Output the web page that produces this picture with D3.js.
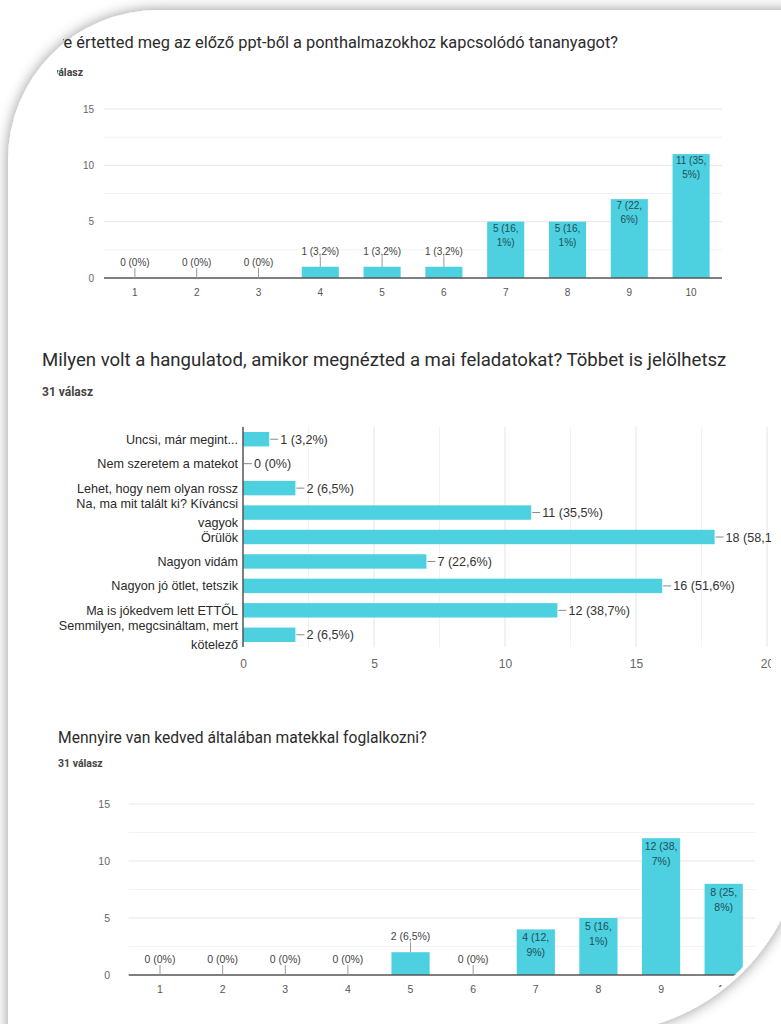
<!DOCTYPE html>
<html><head><meta charset="utf-8">
<script src="https://cdn.jsdelivr.net/npm/d3@7"></script>
<style>html,body{margin:0;padding:0;background:#fff;}svg{display:block}</style>
</head><body>
<svg id="c" width="781" height="1024"></svg>
<script>
// ---------- DATA ----------
const c1Title = "Mennyire értetted meg az előző ppt-ből a ponthalmazokhoz kapcsolódó tananyagot?";
const c1Sub = "31 válasz";
const c1Cats = ["1","2","3","4","5","6","7","8","9","10"];
const c1Vals = [0,0,0,1,1,1,5,5,7,11];
const c1Pct  = ["0","0","0","3,2","3,2","3,2","16,1","16,1","22,6","35,5"];
const c1Ticks = [0,5,10,15];

const c2Title = "Milyen volt a hangulatod, amikor megnézted a mai feladatokat? Többet is jelölhetsz";
const c2Sub = "31 válasz";
const c2Cats = ["Uncsi, már megint...","Nem szeretem a matekot","Lehet, hogy nem olyan rossz","Na, ma mit talált ki? Kíváncsi vagyok","Örülök","Nagyon vidám","Nagyon jó ötlet, tetszik","Ma is jókedvem lett ETTŐL","Semmilyen, megcsináltam, mert kötelező"];
const c2Vals = [1,0,2,11,18,7,16,12,2];
const c2Pct  = ["3,2","0","6,5","35,5","58,1","22,6","51,6","38,7","6,5"];
const c2Ticks = [0,5,10,15,20];

const c3Title = "Mennyire van kedved általában matekkal foglalkozni?";
const c3Sub = "31 válasz";
const c3Cats = ["1","2","3","4","5","6","7","8","9","10"];
const c3Vals = [0,0,0,0,2,0,4,5,12,8];
const c3Pct  = ["0","0","0","0","6,5","0","12,9","16,1","38,7","25,8"];
const c3Ticks = [0,5,10,15];

// ---------- STYLE ----------
const BAR = "#4dd0df";
const TITLE_FONT = "Roboto, 'Liberation Sans', Arial, sans-serif";
const LABEL_FONT = "'Liberation Sans', Arial, sans-serif";

const svg = d3.select("#c");
const defs = svg.append("defs");
const f = defs.append("filter").attr("id","sh").attr("x","-20%").attr("y","-20%").attr("width","140%").attr("height","140%");
f.append("feDropShadow").attr("dx",0).attr("dy",0).attr("stdDeviation",7).attr("flood-color","#000").attr("flood-opacity",0.42);

// card
const R = 150;
svg.append("path")
  .attr("d",`M8,1040 L8,${10+R} A${R},${R} 0 0 1 ${8+R},10 L805,10 L805,820 A212,212 0 0 1 590,1034 L590,1040 Z`)
  .attr("fill","#fff").attr("filter","url(#sh)");

function clipRect(id,x,y,w,h){
  defs.append("clipPath").attr("id",id).append("rect").attr("x",x).attr("y",y).attr("width",w).attr("height",h);
}
clipRect("cl1t",63,20,760,40);
clipRect("cl1s",57,60,760,20);
clipRect("cl2",0,300,771,400);
defs.append("clipPath").attr("id","cl3").append("path")
  .attr("d",`M0,690 L781,690 L781,820 L802,820 A212,212 0 0 1 590,1032 L0,1032 Z`);

function fitTitle(g, text, x, y, targetW, anchor, measureText){
  const m = g.append("text").attr("font-family",TITLE_FONT).attr("font-size",14).text(measureText||text);
  const w = m.node().getComputedTextLength(); m.remove();
  const fs = 14*targetW/w;
  return g.append("text").attr("x",x).attr("y",y).attr("font-family",TITLE_FONT)
    .attr("font-size",fs).attr("fill","#2b2b2b").attr("text-anchor",anchor).text(text);
}

// ---------- vertical bar chart helper ----------
function vChart(g, cats, vals, pct, ticks, o){
  const x = d3.scaleBand().domain(cats).range([o.x0,o.x1]).paddingInner(o.pad).paddingOuter(o.pad/2);
  const y = d3.scaleLinear().domain([0,15]).range([o.y0,o.y1]);
  const minor = d3.range(2.5,15.1,5);
  g.selectAll(".mn").data(minor).join("line").attr("x1",o.x0).attr("x2",o.x1)
    .attr("y1",d=>y(d)).attr("y2",d=>y(d)).attr("stroke","#f3f3f3").attr("stroke-width",1);
  g.selectAll(".mj").data(ticks.filter(t=>t>0)).join("line").attr("x1",o.x0).attr("x2",o.x1)
    .attr("y1",d=>y(d)).attr("y2",d=>y(d)).attr("stroke","#e6e6e6").attr("stroke-width",1);
  const ya = d3.axisLeft(y).tickValues(ticks).tickSize(0).tickPadding(0);
  const yg = g.append("g").attr("transform",`translate(${o.yLabX},0)`).call(ya);
  yg.select(".domain").remove();
  yg.selectAll("text").attr("font-family",LABEL_FONT).attr("font-size",o.fs).attr("fill","#666");
  const data = cats.map((c,i)=>({c,v:vals[i],p:pct[i]}));
  g.selectAll(".bar").data(data.filter(d=>d.v>0)).join("rect")
    .attr("x",d=>x(d.c)).attr("width",x.bandwidth())
    .attr("y",d=>y(d.v)).attr("height",d=>y(0)-y(d.v)).attr("fill",BAR);
  g.append("line").attr("x1",o.x0).attr("x2",o.x1).attr("y1",y(0)).attr("y2",y(0))
    .attr("stroke","#555").attr("stroke-width",1.5);
  const xa = d3.axisBottom(x).tickSize(0).tickPadding(0);
  const xg = g.append("g").attr("transform",`translate(0,${o.xLabY})`).call(xa);
  xg.select(".domain").remove();
  xg.selectAll("text").attr("font-family",LABEL_FONT).attr("font-size",o.fs).attr("fill","#555").attr("dy",0);
  data.forEach(d=>{
    const cx = x(d.c)+x.bandwidth()/2;
    const h = y(0)-y(d.v);
    if(h>30){
      const parts = d.p.split(",");
      const l1 = `${d.v} (${parts[0]},`, l2 = `${parts[1]}%)`;
      const t = g.append("text").attr("text-anchor","middle").attr("font-family",LABEL_FONT)
        .attr("font-size",o.fs).attr("fill","#1d4f57");
      t.append("tspan").attr("x",cx).attr("y",y(d.v)+o.in1).text(l1);
      t.append("tspan").attr("x",cx).attr("y",y(d.v)+o.in2).text(l2);
    } else {
      const top = y(d.v);
      g.append("line").attr("x1",cx).attr("x2",cx).attr("y1",top).attr("y2",top-10)
        .attr("stroke","#999").attr("stroke-width",1);
      g.append("text").attr("x",cx).attr("y",top-12).attr("text-anchor","middle")
        .attr("font-family",LABEL_FONT).attr("font-size",o.fs).attr("fill","#444")
        .text(`${d.v} (${d.p}%)`);
    }
  });
}

// ---------- CHART 1 ----------
const g1 = svg.append("g");
fitTitle(g1.append("g").attr("clip-path","url(#cl1t)"), c1Title, 618, 48, 542, "end",
  "értetted meg az előző ppt-ből a ponthalmazokhoz kapcsolódó tananyagot?");
g1.append("g").attr("clip-path","url(#cl1s)").append("text").attr("x",83).attr("y",75.5)
  .attr("text-anchor","end").attr("font-family",TITLE_FONT).attr("font-weight",700)
  .attr("font-size",10.5).attr("fill","#444").text(c1Sub);
vChart(g1, c1Cats, c1Vals, c1Pct, c1Ticks, {x0:104,x1:722,y0:278,y1:109,pad:0.4,yLabX:94,xLabY:295.5,fs:10,in1:10,in2:24});

// ---------- CHART 2 (horizontal) ----------
const g2 = svg.append("g").attr("clip-path","url(#cl2)");
fitTitle(g2, c2Title, 42, 366, 685, "start");
g2.append("text").attr("x",42).attr("y",396).attr("font-family",TITLE_FONT).attr("font-weight",700)
  .attr("font-size",12).attr("fill","#444").text(c2Sub);
{
  const x = d3.scaleLinear().domain([0,20]).range([243,767]);
  const y = d3.scaleBand().domain(c2Cats).range([427,647]).paddingInner(0.41).paddingOuter(0.205);
  const minor = d3.range(2.5,20,5);
  g2.selectAll(".mn").data(minor).join("line").attr("x1",d=>x(d)).attr("x2",d=>x(d))
    .attr("y1",427).attr("y2",647).attr("stroke","#f2f2f2");
  g2.selectAll(".mj").data(c2Ticks.filter(t=>t>0)).join("line").attr("x1",d=>x(d)).attr("x2",d=>x(d))
    .attr("y1",427).attr("y2",647).attr("stroke","#e4e4e4");
  const data = c2Cats.map((c,i)=>({c,v:c2Vals[i],p:c2Pct[i]}));
  g2.selectAll(".bar").data(data.filter(d=>d.v>0)).join("rect")
    .attr("x",x(0)).attr("y",d=>y(d.c)).attr("height",y.bandwidth())
    .attr("width",d=>x(d.v)-x(0)).attr("fill",BAR);
  g2.append("line").attr("x1",x(0)).attr("x2",x(0)).attr("y1",427).attr("y2",647)
    .attr("stroke","#555").attr("stroke-width",1.5);
  const xg = g2.append("g").attr("transform","translate(0,668)")
    .call(d3.axisBottom(x).tickValues(c2Ticks).tickSize(0).tickPadding(0));
  xg.select(".domain").remove();
  xg.selectAll("text").attr("font-family",LABEL_FONT).attr("font-size",12).attr("fill","#666").attr("dy",0);
  data.forEach(d=>{
    const cy = y(d.c)+y.bandwidth()/2;
    const t = g2.append("text").attr("text-anchor","end").attr("font-family",LABEL_FONT)
      .attr("font-size",12.6).attr("fill","#2a2a2a");
    const words = d.c.split(" ");
    const lines=[]; let cur="";
    const probe = g2.append("text").attr("font-family",LABEL_FONT).attr("font-size",12.6);
    words.forEach(w=>{
      const test = cur?cur+" "+w:w;
      probe.text(test);
      if(probe.node().getComputedTextLength()>192 && cur){lines.push(cur);cur=w;} else cur=test;
    });
    lines.push(cur); probe.remove();
    const lh = 19, off = -(lines.length-1)*lh/2;
    lines.forEach((ln,i)=>t.append("tspan").attr("x",238).attr("y",cy+off+i*lh+4.5).text(ln));
    const ex = x(d.v);
    g2.append("line").attr("x1",ex+1).attr("x2",ex+9).attr("y1",cy).attr("y2",cy).attr("stroke","#888");
    g2.append("text").attr("x",ex+11).attr("y",cy+4.5).attr("font-family",LABEL_FONT)
      .attr("font-size",12.6).attr("fill","#333").text(`${d.v} (${d.p}%)`);
  });
}

// ---------- CHART 3 ----------
const g3 = svg.append("g").attr("clip-path","url(#cl3)");
fitTitle(g3, c3Title, 58, 743, 369, "start");
g3.append("text").attr("x",58).attr("y",766.5).attr("font-family",TITLE_FONT).attr("font-weight",700)
  .attr("font-size",10.5).attr("fill","#444").text(c3Sub);
vChart(g3, c3Cats, c3Vals, c3Pct, c3Ticks, {x0:128.7,x1:755,y0:975,y1:804,pad:0.39,yLabX:110,xLabY:993,fs:10.5,in1:12,in2:27});
</script>
</body></html>
